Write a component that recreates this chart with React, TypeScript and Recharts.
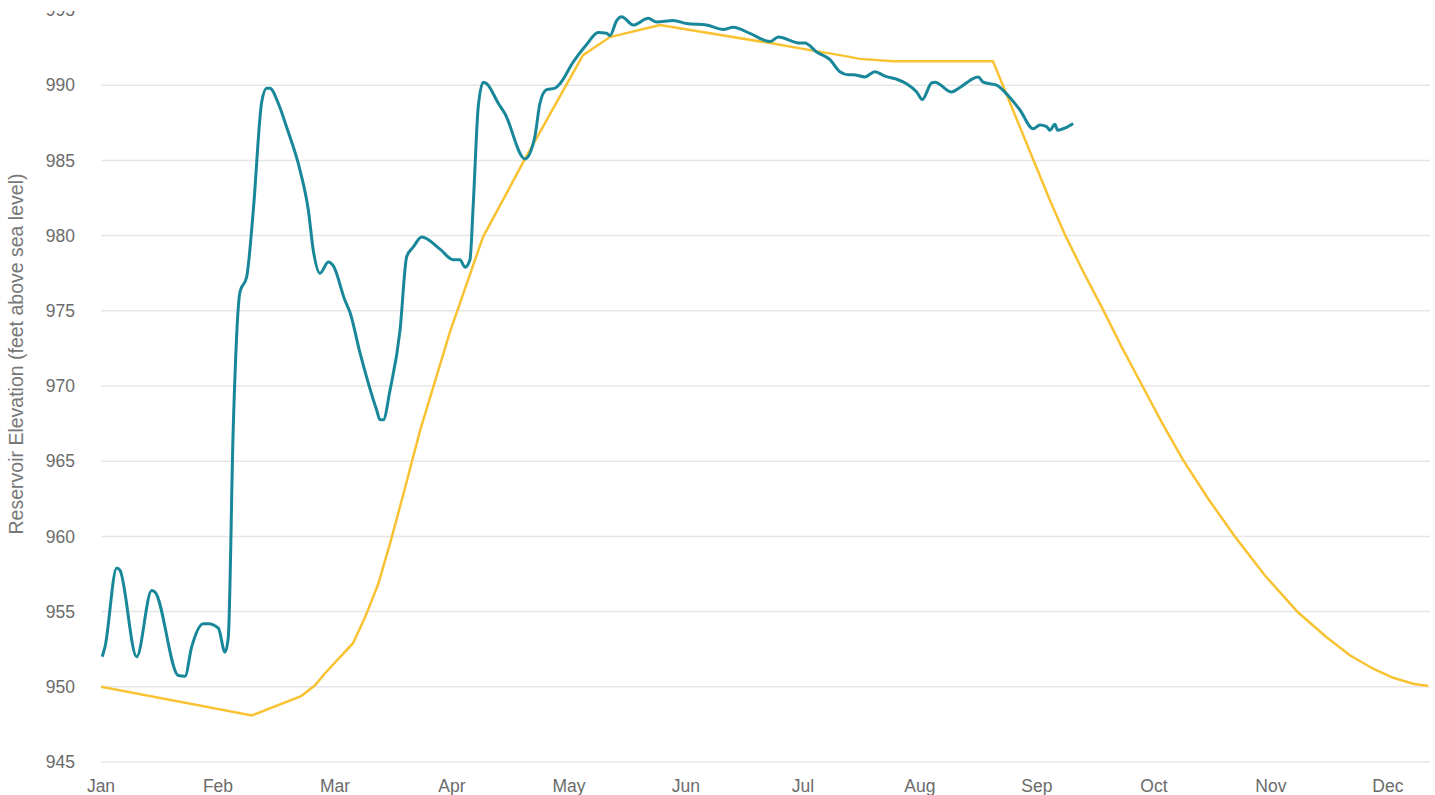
import React from "react";
import { CartesianGrid, Line, LineChart, XAxis, YAxis } from "recharts";

// x positions are in months from Jan 1 (0 = Jan, 1 = Feb, ...)
const monthLabels = ["Jan", "Feb", "Mar", "Apr", "May", "Jun", "Jul", "Aug", "Sep", "Oct", "Nov", "Dec"];
const monthTicks = [0, 1, 2, 3, 4, 5, 6, 7, 8, 9, 10, 11];
const elevationTicks = [945, 950, 955, 960, 965, 970, 975, 980, 985, 990, 995];

// observed reservoir elevation
const observedPos = [
  0.01, 0.034, 0.134, 0.162, 0.305, 0.433, 0.462, 0.661, 0.718, 0.775, 0.874, 0.917, 1.003, 1.06, 1.088,
  1.13, 1.188, 1.245, 1.302, 1.374, 1.416, 1.444, 1.515, 1.587, 1.701, 1.772, 1.815, 1.872, 1.943, 1.985,
  2.085, 2.128, 2.214, 2.356, 2.385, 2.413, 2.47, 2.556, 2.613, 2.67, 2.741, 2.897, 3.011, 3.068, 3.111,
  3.154, 3.182, 3.225, 3.268, 3.297, 3.396, 3.453, 3.624, 3.709, 3.752, 3.809, 3.88, 3.923, 4.037, 4.151,
  4.25, 4.322, 4.35, 4.408, 4.45, 4.55, 4.678, 4.75, 4.891, 5.006, 5.177, 5.319, 5.404, 5.547, 5.718,
  5.789, 5.974, 6.017, 6.117, 6.231, 6.316, 6.387, 6.43, 6.53, 6.615, 6.701, 6.801, 6.886, 6.972, 7.02,
  7.1, 7.128, 7.271, 7.342, 7.498, 7.541, 7.655, 7.755, 7.855, 7.968, 8.026, 8.083, 8.111, 8.154, 8.177,
  8.254, 8.31
];
const observedElev = [
  952.0, 952.65, 957.9, 957.75, 952.0, 956.4, 956.3, 950.75, 950.7, 952.65, 954.2, 954.2, 953.9, 952.3, 953.3,
  967.1, 976.25, 977.25, 981.7, 988.9, 989.8, 989.8, 988.8, 987.2, 984.35, 981.7, 979.0, 977.5, 978.25, 978.0,
  975.7, 974.9, 972.2, 968.4, 967.75, 967.75, 969.7, 973.7, 978.6, 979.25, 979.9, 979.1, 978.4, 978.4, 977.9,
  978.4, 982.1, 988.6, 990.2, 990.1, 988.8, 988.1, 985.1, 986.6, 988.8, 989.7, 989.8, 990.1, 991.55, 992.7,
  993.5, 993.45, 993.3, 994.3, 994.55, 994.0, 994.45, 994.2, 994.3, 994.1, 994.0, 993.7, 993.85, 993.45, 992.9,
  993.2, 992.8, 992.8, 992.2, 991.7, 990.9, 990.7, 990.7, 990.55, 990.9, 990.6, 990.4, 990.1, 989.55, 989.05,
  990.15, 990.2, 989.55, 989.85, 990.55, 990.2, 990.0, 989.3, 988.35, 987.1, 987.35, 987.25, 987.0, 987.4, 987.0,
  987.2, 987.45
];

// guide (rule) curve
const rulePos = [
  0, 1.29, 1.715, 1.829, 1.915, 2.154, 2.256, 2.368, 2.47, 2.598, 2.726, 2.983, 3.265, 3.624, 4.12, 4.35,
  4.778, 5.718, 6.085, 6.316, 6.487, 6.769, 7.624, 8.111, 8.239, 8.396, 8.567, 8.724, 8.895, 9.066, 9.25,
  9.464, 9.692, 9.949, 10.233, 10.476, 10.675, 10.874, 11.045, 11.216, 11.345
];
const ruleElev = [
  950.0, 948.1, 949.4, 950.1, 950.9, 952.9, 954.6, 956.8, 959.5, 963.2, 967.0, 973.6, 979.9, 985.1, 992.0, 993.2,
  994.0, 992.8, 992.3, 992.0, 991.75, 991.6, 991.6, 982.35, 980.07, 977.6, 975.04, 972.6, 970.1, 967.6, 965.07,
  962.5, 960.0, 957.4, 954.94, 953.3, 952.1, 951.2, 950.6, 950.2, 950.05
];

const observed = observedPos.map((pos, i) => ({ pos, elev: observedElev[i] }));
const ruleCurve = rulePos.map((pos, i) => ({ pos, elev: ruleElev[i] }));

const font = "'Liberation Sans', Arial, sans-serif";
const tickStyle = { fontSize: 17.5, fill: "#6b6b6b", fontFamily: font };

function YLabel() {
  const x = 16;
  const y = 354;
  return (
    <text
      x={x}
      y={y}
      transform={`rotate(-90, ${x}, ${y})`}
      textAnchor="middle"
      dominantBaseline="central"
      style={{ fontSize: 19.5, fill: "#777", fontFamily: font }}
    >
      Reservoir Elevation (feet above sea level)
    </text>
  );
}

export default function App() {
  return (
    <div style={{ position: "absolute", left: 0, top: 0, width: 1435, height: 795, overflow: "hidden", background: "#fff" }}>
      <LineChart width={1435} height={795} margin={{ top: 10, right: 5, left: 0, bottom: 0 }}>
        <CartesianGrid stroke="#e6e6e6" strokeWidth={1.5} vertical={false} />
        <XAxis
          dataKey="pos"
          type="number"
          domain={[0, 11.36]}
          ticks={monthTicks}
          interval={0}
          allowDataOverflow
          tickFormatter={(v: number) => monthLabels[v]}
          tickLine={false}
          axisLine={false}
          tick={tickStyle}
          tickMargin={12}
          height={33}
        />
        <YAxis
          type="number"
          domain={[945, 995]}
          ticks={elevationTicks}
          interval={0}
          allowDataOverflow
          tickLine={false}
          axisLine={false}
          tick={tickStyle}
          tickMargin={20}
          width={101}
          label={<YLabel />}
        />
        <Line
          data={ruleCurve}
          dataKey="elev"
          type="linear"
          stroke="#f8c232"
          strokeWidth={2.5}
          dot={false}
          activeDot={false}
          isAnimationActive={false}
        />
        <Line
          data={observed}
          dataKey="elev"
          type="monotone"
          stroke="#18879a"
          strokeWidth={3}
          dot={false}
          activeDot={false}
          isAnimationActive={false}
        />
      </LineChart>
      <div style={{ position: "absolute", left: 0, top: 0, width: 1435, height: 11, background: "#fff" }} />
    </div>
  );
}
